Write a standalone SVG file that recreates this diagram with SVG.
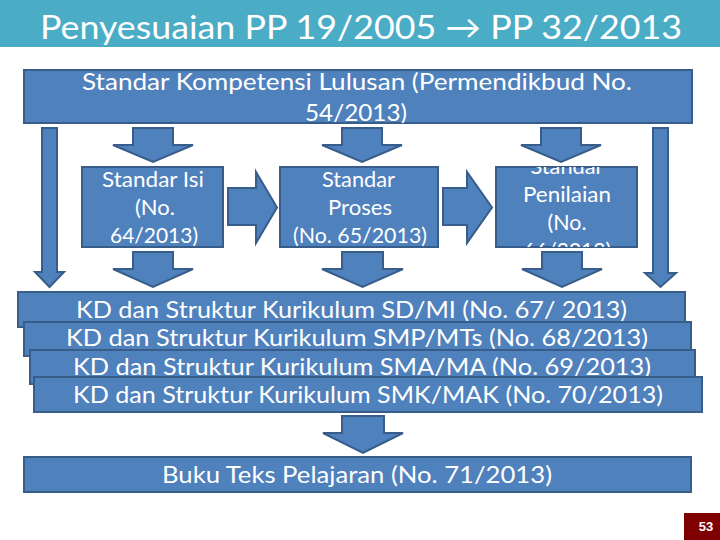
<svg xmlns="http://www.w3.org/2000/svg" width="720" height="540" viewBox="0 0 720 540">
<style>
.box{fill:#4F81BD;stroke:#385D8A;stroke-width:2}
.arrow{fill:#4F81BD;stroke:#385D8A;stroke-width:2;stroke-linejoin:miter}
.t{font-family:Lato,"Open Sans","DejaVu Sans",sans-serif;fill:#FFFFFF;text-anchor:middle}
.s24{font-size:22px}
.s25{font-size:23px}
</style>
<defs>
<clipPath id="clipTop"><rect x="24" y="70" width="668" height="53"/></clipPath>
<clipPath id="clipPen"><rect x="496" y="167" width="141" height="80"/></clipPath>
</defs>
<rect x="0" y="0" width="720" height="540" fill="#FFFFFF"/>
<g id="title">
<rect x="0" y="0" width="720" height="47" fill="#4BACC6"/>
<text class="t" x="361" y="39" font-size="33" textLength="642" lengthAdjust="spacingAndGlyphs">Penyesuaian PP 19/2005 → PP 32/2013</text>
</g>
<g id="connectors">
<path class="arrow" d="M133,128 H173 V145 H193 L153,162 L113,145 H133 Z"/>
<path class="arrow" d="M342,128 H382 V145 H402 L362,162 L322,145 H342 Z"/>
<path class="arrow" d="M541,128 H581 V145 H601 L561,162 L521,145 H541 Z"/>
<path class="arrow" d="M133,252 H173 V269 H193 L153,287 L113,269 H133 Z"/>
<path class="arrow" d="M342,252 H383 V269 H403 L362.5,287 L322,269 H342 Z"/>
<path class="arrow" d="M542,252 H582 V269 H602 L562,287 L522,269 H542 Z"/>
<path class="arrow" d="M42,128 H57 V272 H64 L49.5,287 L35,272 H42 Z"/>
<path class="arrow" d="M653,128 H668 V273 H676 L660.5,287 L645,273 H653 Z"/>
<path class="arrow" d="M228,188 H256 V172 L277,207.5 L256,243 V225 H228 Z"/>
<path class="arrow" d="M443,188 H467 V172 L492,207.5 L467,243 V225 H443 Z"/>
<path class="arrow" d="M342,416 H384 V433 H403 L363,453 L323,433 H342 Z"/>
</g>
<g id="skl">
<rect class="box" x="24" y="70" width="668" height="53"/>
<g clip-path="url(#clipTop)">
<text class="t" x="357" y="90" font-size="24" textLength="550" lengthAdjust="spacingAndGlyphs">Standar Kompetensi Lulusan (Permendikbud No.</text>
<text class="t" x="356" y="121" font-size="24" textLength="102" lengthAdjust="spacingAndGlyphs">54/2013)</text>
</g>
</g>
<g id="isi">
<rect class="box" x="82" y="167" width="141" height="80"/>
<text class="t s24" x="153" y="187" textLength="102" lengthAdjust="spacingAndGlyphs">Standar Isi</text>
<text class="t s24" x="155" y="215" textLength="40" lengthAdjust="spacingAndGlyphs">(No.</text>
<text class="t s24" x="154" y="243" textLength="88" lengthAdjust="spacingAndGlyphs">64/2013)</text>
</g>
<g id="proses">
<rect class="box" x="280" y="167" width="158" height="80"/>
<text class="t s24" x="358.5" y="187" textLength="73" lengthAdjust="spacingAndGlyphs">Standar</text>
<text class="t s24" x="360" y="215" textLength="64" lengthAdjust="spacingAndGlyphs">Proses</text>
<text class="t s24" x="360" y="243" textLength="134" lengthAdjust="spacingAndGlyphs">(No. 65/2013)</text>
</g>
<g id="penilaian">
<rect class="box" x="496" y="167" width="141" height="80"/>
<g clip-path="url(#clipPen)">
<text class="t s24" x="567" y="174" textLength="73" lengthAdjust="spacingAndGlyphs">Standar</text>
<text class="t s24" x="567" y="202" textLength="88" lengthAdjust="spacingAndGlyphs">Penilaian</text>
<text class="t s24" x="567" y="230" textLength="39" lengthAdjust="spacingAndGlyphs">(No.</text>
<text class="t s24" x="567" y="258" textLength="88" lengthAdjust="spacingAndGlyphs">66/2013)</text>
</g>
</g>
<g id="kd-sd">
<rect class="box" x="18" y="292" width="667" height="35"/>
<text class="t s25" x="351.5" y="318" textLength="551" lengthAdjust="spacingAndGlyphs">KD dan Struktur Kurikulum SD/MI (No. 67/ 2013)</text>
</g>
<g id="kd-smp">
<rect class="box" x="24" y="322" width="667" height="34"/>
<text class="t s25" x="357" y="346" textLength="582" lengthAdjust="spacingAndGlyphs">KD dan Struktur Kurikulum SMP/MTs (No. 68/2013)</text>
</g>
<g id="kd-sma">
<rect class="box" x="30" y="350" width="665" height="34"/>
<text class="t s25" x="362" y="375" textLength="578" lengthAdjust="spacingAndGlyphs">KD dan Struktur Kurikulum SMA/MA (No. 69/2013)</text>
</g>
<g id="kd-smk">
<rect class="box" x="34" y="377" width="668" height="35"/>
<text class="t s25" x="368" y="403" textLength="590" lengthAdjust="spacingAndGlyphs">KD dan Struktur Kurikulum SMK/MAK (No. 70/2013)</text>
</g>
<g id="buku">
<rect class="box" x="24" y="457" width="667" height="35"/>
<text class="t s25" x="357" y="483" textLength="390" lengthAdjust="spacingAndGlyphs">Buku Teks Pelajaran (No. 71/2013)</text>
</g>
<g id="page-number">
<rect x="684" y="513" width="36" height="27" fill="#7F0000"/>
<text x="706" y="531" font-family="'Liberation Sans',Arial,sans-serif" font-size="13" font-weight="bold" fill="#FFFFFF" text-anchor="middle">53</text>
</g>
</svg>
